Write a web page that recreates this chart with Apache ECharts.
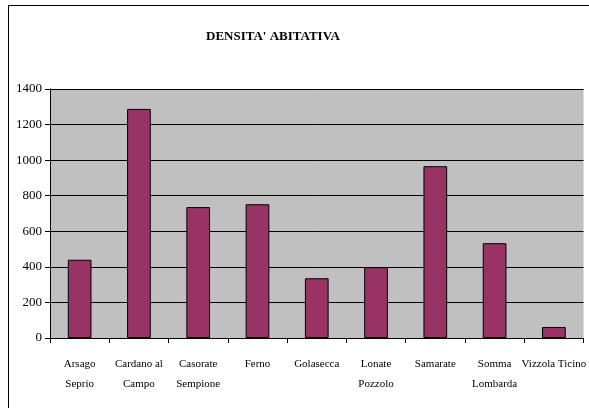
<!DOCTYPE html>
<html><head><meta charset="utf-8">
<script src="https://cdn.jsdelivr.net/npm/echarts@6/dist/echarts.min.js"></script>
<style>html,body{margin:0;padding:0;background:#fff}#c{width:589px;height:408px;position:relative}
#frame{position:absolute;left:8px;top:5px;width:590px;height:410px;border:1px solid #000;box-sizing:border-box;pointer-events:none}</style>
</head><body><div id="c"></div><div id="frame"></div>
<script>
var categories = ['Arsago\nSeprio','Cardano al\nCampo','Casorate\nSempione','Ferno','Golasecca','Lonate\nPozzolo','Samarate','Somma\nLombarda','Vizzola Ticino'];
var values = [440, 1288, 736, 752, 336, 398, 966, 533, 62];
var yTicks = [0,200,400,600,800,1000,1200,1400];
var chart = echarts.init(document.getElementById('c'), null, {renderer:'canvas'});
chart.setOption({
  animation:false,
  title:{text:"DENSITA' ABITATIVA", left:201, top:25,
    textStyle:{fontFamily:'Liberation Serif', fontSize:13, fontWeight:'bold', color:'#000'}},
  grid:{left:50, right:2, top:89, bottom:70, backgroundColor:'#C0C0C0', show:true, borderWidth:0},
  xAxis:{type:'category', data:categories,
    axisLine:{lineStyle:{color:'#000', width:1}},
    axisTick:{show:true, alignWithLabel:false, length:5, lineStyle:{color:'#000'}},
    axisLabel:{fontFamily:'Liberation Serif', fontSize:11, color:'#000', lineHeight:20, margin:16, interval:0}},
  yAxis:{type:'value', min:0, max:1400, interval:200,
    axisLine:{show:true, lineStyle:{color:'#000'}},
    axisTick:{show:true, length:5, lineStyle:{color:'#000'}},
    splitLine:{lineStyle:{color:'#000', width:1}},
    axisLabel:{fontFamily:'Liberation Serif', fontSize:13, color:'#000', margin:8,
      formatter:function(v){return yTicks.indexOf(v)>=0? String(v):'';}}},
  series:[{type:'bar', data:values, barWidth:'40%',
    itemStyle:{color:'#993366', borderColor:'#000', borderWidth:1}}]
});
</script></body></html>
